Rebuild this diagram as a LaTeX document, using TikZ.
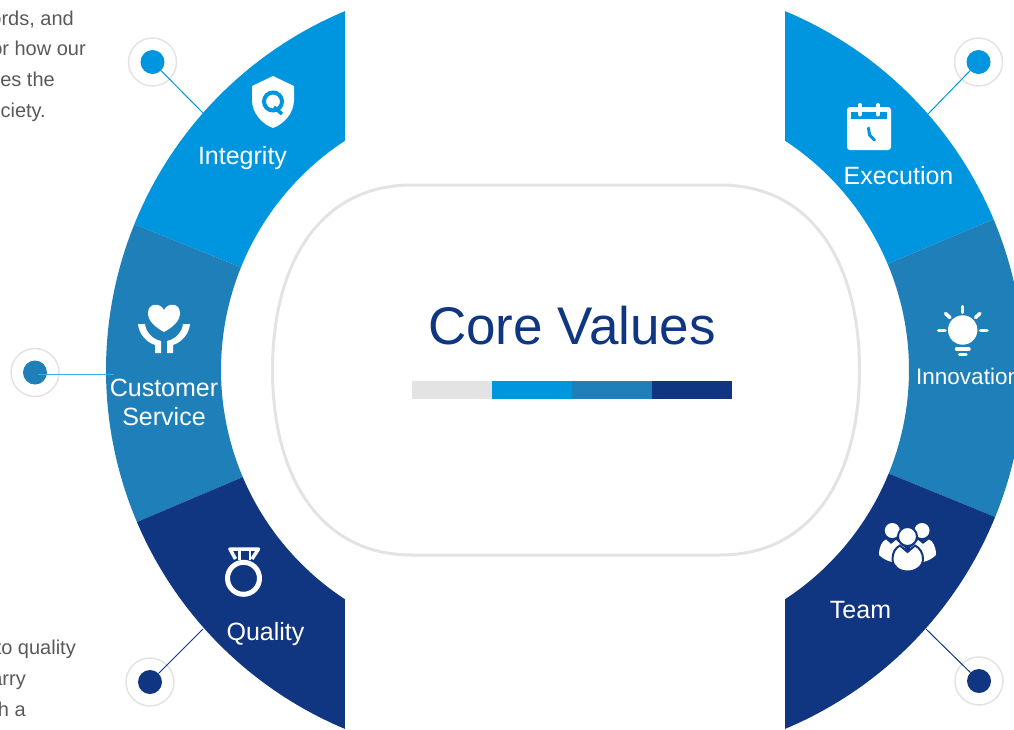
\documentclass[tikz,border=0pt]{standalone}
\usepackage{fontspec}
\setmainfont{Liberation Sans}

\definecolor{ringlight}{HTML}{0095DF}
\definecolor{ringmid}{HTML}{1F7FB8}
\definecolor{ringdark}{HTML}{103682}
\definecolor{ringgrey}{HTML}{E3E3E3}
\definecolor{bodygrey}{HTML}{595959}
\definecolor{leadblue}{HTML}{2FB2F0}

\tikzset{
    seglabel/.style={text=white, font=\fontsize{25}{29}\selectfont, inner sep=0pt, align=center},
    sidetext/.style={text=bodygrey, font=\fontsize{20}{24}\selectfont, inner sep=0pt, anchor=base east},
    halo/.style={circle, draw=ringgrey, line width=1.5pt, fill=white, minimum size=48pt, inner sep=0pt},
    dot/.style={circle, minimum size=24pt, inner sep=0pt},
    iconline/.style={white, line width=3.5pt, line cap=round}
}

\begin{document}
\begin{tikzpicture}[x=1pt, y=1pt, yscale=-1]
    \useasboundingbox (0,0) rectangle (1014,729);

    % Left half of the ring
    \begin{scope}[shift={(495,370)}]
        \fill[ringlight] (-112.7:389) arc[start angle=-112.7, end angle=-158, radius=389]
            -- (-158:274) arc[start angle=-158, end angle=-123.2, radius=274] -- cycle;
        \fill[ringmid] (-158:389) arc[start angle=-158, end angle=-203, radius=389]
            -- (-203:274) arc[start angle=-203, end angle=-158, radius=274] -- cycle;
        \fill[ringdark] (-203:389) arc[start angle=-203, end angle=-247.3, radius=389]
            -- (-236.8:274) arc[start angle=-236.8, end angle=-203, radius=274] -- cycle;
    \end{scope}

    % Right half of the ring
    \begin{scope}[shift={(635,370)}]
        \fill[ringlight] (-67.3:389) arc[start angle=-67.3, end angle=-22.8, radius=389]
            -- (-22.8:274) arc[start angle=-22.8, end angle=-56.8, radius=274] -- cycle;
        \fill[ringmid] (-22.8:389) arc[start angle=-22.8, end angle=22.2, radius=389]
            -- (22.2:274) arc[start angle=22.2, end angle=-22.8, radius=274] -- cycle;
        \fill[ringdark] (22.2:389) arc[start angle=22.2, end angle=67.3, radius=389]
            -- (56.8:274) arc[start angle=56.8, end angle=22.2, radius=274] -- cycle;
    \end{scope}

    % Centre outline
    \draw[ringgrey, line width=3pt] (412,185) -- (720,185)
        .. controls (814,185) and (859.5,266) .. (859.5,370)
        .. controls (859.5,474) and (814,555) .. (720,555)
        -- (412,555)
        .. controls (318,555) and (272.5,474) .. (272.5,370)
        .. controls (272.5,266) and (318,185) .. (412,185) -- cycle;
    \node[text=ringdark, font=\fontsize{53}{60}\selectfont, inner sep=0pt] (title) at (572,326) {Core Values};

    % Colour bar
    \fill[ringgrey] (412,381) rectangle (492,399);
    \fill[ringlight] (492,381) rectangle (572,399);
    \fill[ringmid] (572,381) rectangle (652,399);
    \fill[ringdark] (652,381) rectangle (732,399);

    % Segment labels
    \node[seglabel, anchor=base] (integrity) at (242.5,164) {Integrity};
    \node[seglabel] (customer) at (164,402.5) {Customer\\Service};
    \node[seglabel, anchor=base] (quality) at (265.5,640) {Quality};
    \node[seglabel, anchor=base] (execution) at (898.5,184) {Execution};
    \node[seglabel, anchor=base west, font=\fontsize{22.5}{27}\selectfont] (innovation) at (916,384) {Innovation};
    \node[seglabel, anchor=base] (team) at (860.5,618) {Team};

    % Side text, cut by the page edge
    \node[sidetext] (textone) at (74,25) {ords, and};
    \node[sidetext] (texttwo) at (86,55) {or how our};
    \node[sidetext] (textthree) at (55,86) {es the};
    \node[sidetext] (textfour) at (46,117) {ciety.};
    \node[sidetext] (textfive) at (76,654) {to quality};
    \node[sidetext] (textsix) at (26,685) {arry};
    \node[sidetext] (textseven) at (26,716) {h a};

    % Marker dots
    \node[halo] (haloint) at (152.5,62) {};
    \node[dot, fill=ringlight] (dotint) at (152.5,62) {};
    \node[halo] (halocust) at (35,372.5) {};
    \node[dot, fill=ringmid] (dotcust) at (35,372.5) {};
    \node[halo] (haloqual) at (150,682) {};
    \node[dot, fill=ringdark] (dotqual) at (150,682) {};
    \node[halo] (haloexec) at (978.5,62) {};
    \node[dot, fill=ringlight] (dotexec) at (978.5,62) {};
    \node[halo] (haloteam) at (979,681) {};
    \node[dot, fill=ringdark] (dotteam) at (979,681) {};

    % Leader lines
    \coordinate (endint) at (203,113);
    \coordinate (startcust) at (38,374.5);
    \coordinate (endcust) at (114,374.5);
    \coordinate (endqual) at (203,629);
    \coordinate (endexec) at (928,114);
    \coordinate (endteam) at (926,629);
    \draw[ringlight, line width=1pt] (dotint) -- (endint);
    \draw[leadblue, line width=1.2pt] (startcust) -- (endcust);
    \draw[ringdark, line width=1pt] (dotqual) -- (endqual);
    \draw[ringlight, line width=1pt] (dotexec) -- (endexec);
    \draw[ringdark, line width=1pt] (dotteam) -- (endteam);

    % Shield icon
    \fill[white] (273,76) -- (252,86) -- (252,100) .. controls (252,113) and (262,124) .. (273,128)
        .. controls (284,124) and (294,113) .. (294,100) -- (294,86) -- cycle;
    \draw[ringlight, line width=4pt] (273,101.5) circle[radius=9];
    \draw[ringlight, line width=3.5pt] (274,107) -- (282,114);

    % Heart and hands icon
    \fill[white] (164,332) .. controls (155,327) and (148,321) .. (148,313)
        .. controls (148,303) and (160,302) .. (164,310)
        .. controls (168,302) and (180,303) .. (180,313)
        .. controls (180,321) and (173,327) .. (164,332) -- cycle;
    \fill[white] (138,324) -- (145,324) .. controls (146,332) and (152,339) .. (161,341)
        -- (161,353) -- (155,353) -- (155,345) .. controls (146,342) and (139,334) .. (138,324) -- cycle;
    \fill[white] (190,324) -- (183,324) .. controls (182,332) and (176,339) .. (167,341)
        -- (167,353) -- (173,353) -- (173,345) .. controls (182,342) and (189,334) .. (190,324) -- cycle;

    % Medal icon
    \draw[white, line width=5pt] (243.5,578.3) circle[radius=16];
    \draw[white, line width=3.5pt, line join=round] (235.5,559) -- (230,549) -- (258.5,549) -- (252,559);
    \draw[white, line width=2.5pt] (239.7,549) -- (239.7,560);
    \draw[white, line width=2.5pt] (249.8,549) -- (249.8,560);

    % Calendar icon
    \fill[white, rounded corners=3pt] (847,107) rectangle (891,150);
    \fill[ringlight] (851,112) rectangle (887,119);
    \draw[white, line width=4pt, line cap=round] (860,105) -- (860,114.5);
    \draw[white, line width=4pt, line cap=round] (878,105) -- (878,114.5);
    \draw[ringlight, line width=3pt, line cap=round, line join=round] (868.5,128) -- (869.5,135) -- (874.5,140);

    % Bulb icon
    \fill[white] (962.7,330) circle[radius=14.7];
    \draw[iconline] (962.7,306.5) -- (962.7,312.5);
    \draw[iconline] (945.5,313.5) -- (950,317.5);
    \draw[iconline] (980,313.5) -- (975.5,317.5);
    \draw[iconline] (938.5,330.5) -- (945,330.5);
    \draw[iconline] (980.5,330.5) -- (987,330.5);
    \draw[iconline] (956.5,349) -- (969,349);
    \draw[iconline] (959.5,354.7) -- (966,354.7);

    % Team icon
    \fill[white] (892.3,530.5) circle[radius=7.5];
    \fill[white] (922,530.5) circle[radius=7.5];
    \fill[white] (879,555) .. controls (879,547) and (882,541) .. (886,539.5) -- (891,544) -- (896,540)
        -- (905,548) -- (892,562) .. controls (887,561) and (882,558) .. (879,555) -- cycle;
    \fill[white] (936,555) .. controls (936,547) and (933,541) .. (929,539.5) -- (923,544) -- (918,540)
        -- (910,548) -- (923,562) .. controls (928,561) and (933,558) .. (936,555) -- cycle;
    \filldraw[white, draw=ringdark, line width=2pt] (907.5,536.5) circle[radius=9.5];
    \filldraw[white, draw=ringdark, line width=2pt] (892.5,559) .. controls (892.5,553) and (895,548) .. (900,545.5)
        -- (907.5,552) -- (915,545.5) .. controls (920,548) and (923,553) .. (923,559)
        .. controls (923,567) and (915,571.5) .. (907.5,571.5) .. controls (900,571.5) and (892.5,567) .. (892.5,559) -- cycle;
\end{tikzpicture}
\end{document}
